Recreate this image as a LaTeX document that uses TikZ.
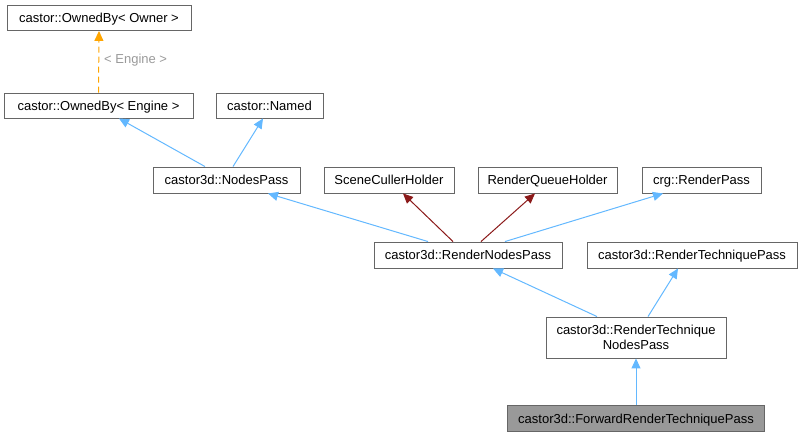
\documentclass[tikz,border=0pt]{standalone}
\usepackage{fontspec}
\setmainfont{Liberation Sans}
\usetikzlibrary{arrows.meta}
\definecolor{edgeblue}{HTML}{63B8FF}
\definecolor{edgered}{HTML}{8B1A1A}
\definecolor{edgeorange}{HTML}{FFA500}
\definecolor{boxborder}{HTML}{666666}
\definecolor{curfill}{HTML}{999999}
\definecolor{lblgray}{HTML}{9A9A9A}
\begin{document}
\begin{tikzpicture}[x=1pt,y=-1pt,
  cls/.style={draw=boxborder, line width=0.9pt, fill=white, inner sep=0pt, minimum height=25pt, align=center, text height=9.3pt, text depth=0.3pt, font=\fontsize{13}{15.5}\selectfont},
  cur/.style={cls, fill=curfill},
  inh/.style={draw=edgeblue, line width=1pt, -{Triangle[length=10pt,width=9pt]}},
  prot/.style={draw=edgered, line width=1pt, -{Triangle[length=10pt,width=9pt]}},
  tmpl/.style={draw=edgeorange, line width=1pt, dashed, dash pattern=on 6pt off 4pt, -{Triangle[length=10pt,width=9pt]}},
  lbl/.style={text=lblgray, font=\fontsize{13}{15.5}\selectfont, inner sep=0pt, anchor=west}
]
\useasboundingbox (0,0) rectangle (803,437);
\node[cls, minimum width=184pt] (oo) at (99,18) {castor::OwnedBy< Owner >};
\node[cls, minimum width=189pt] (oe) at (98.5,105.5) {castor::OwnedBy< Engine >};
\node[cls, minimum width=107pt] (nm) at (269.5,105.5) {castor::Named};
\node[cls, minimum width=147pt, minimum height=26pt] (np) at (226.5,180) {castor3d::NodesPass};
\node[cls, minimum width=130pt, minimum height=26pt] (sc) at (389,180) {SceneCullerHolder};
\node[cls, minimum width=139pt, minimum height=26pt] (rq) at (547.5,180) {RenderQueueHolder};
\node[cls, minimum width=119pt, minimum height=26pt] (crg) at (701.5,180) {crg::RenderPass};
\node[cls, minimum width=188pt, minimum height=26pt] (rnp) at (468,255) {castor3d::RenderNodesPass};
\node[cls, minimum width=210pt, minimum height=26pt] (rtp) at (692,255) {castor3d::RenderTechniquePass};
\node[cls, minimum width=180pt, minimum height=41pt, text height=, text depth=] (rtn) at (636,337.5) {castor3d::RenderTechnique\\NodesPass};
\node[cur, minimum width=257pt, minimum height=26pt] (fw) at (636,418.5) {castor3d::ForwardRenderTechniquePass};

\draw[tmpl] (oe.north) -- (oo.south);
\node[lbl] (lab) at (104,60) {< Engine >};

\draw[inh] ([xshift=-21.5pt]np.north) -- ([xshift=20.5pt]oe.south);
\draw[inh] ([xshift=6.5pt]np.north) -- ([xshift=-6.5pt]nm.south);
\draw[inh] ([xshift=-40pt]rnp.north) -- ([xshift=41.5pt]np.south);
\draw[prot] ([xshift=-15pt]rnp.north) -- ([xshift=14pt]sc.south);
\draw[prot] ([xshift=13pt]rnp.north) -- ([xshift=-12.5pt]rq.south);
\draw[inh] ([xshift=37pt]rnp.north) -- ([xshift=-38.5pt]crg.south);
\draw[inh] ([xshift=-39pt]rtn.north) -- ([xshift=25pt]rnp.south);
\draw[inh] ([xshift=12pt]rtn.north) -- ([xshift=-14pt]rtp.south);
\draw[inh] (fw.north) -- (rtn.south);
\end{tikzpicture}
\end{document}
